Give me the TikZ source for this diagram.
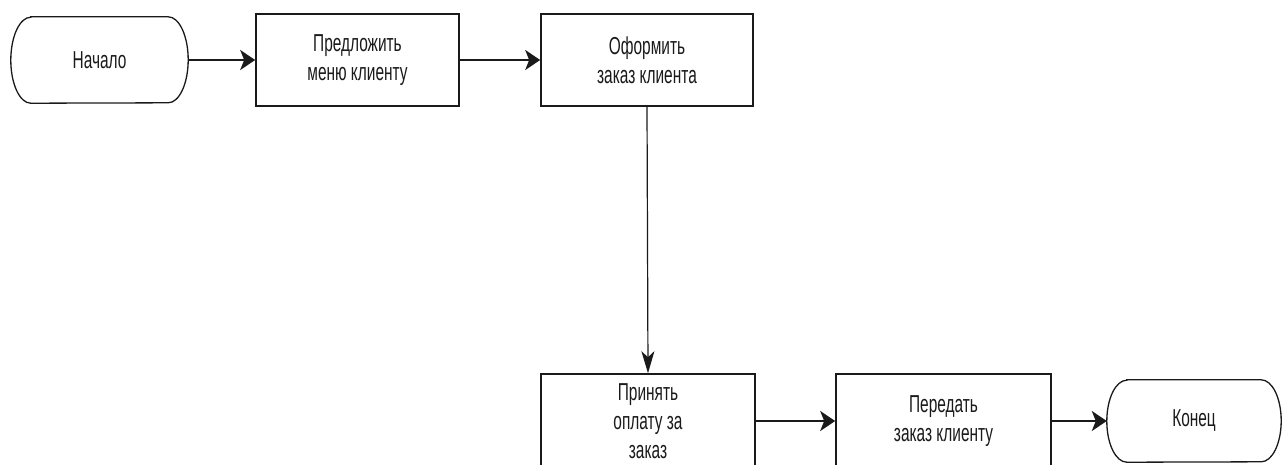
\documentclass[tikz,border=0pt]{standalone}
\usepackage{fontspec}
\setmainfont{Liberation Sans}[FakeStretch=0.63]
\usetikzlibrary{arrows.meta}
\definecolor{ink}{HTML}{1A1A1A}
\newcommand\drawterm[2]{%
  \draw[termline] ([xshift=20pt]#1.north west) -- ([xshift=-20pt]#1.north east)
    arc[start angle=90,end angle=-90,x radius=20pt,y radius=#2]
    -- ([xshift=20pt]#1.south west)
    arc[start angle=270,end angle=90,x radius=20pt,y radius=#2] -- cycle;}
\begin{document}
\begin{tikzpicture}[x=1pt,y=1pt,
  txt/.style={font=\fontsize{24.5}{29}\selectfont, text=ink, align=center, inner sep=0pt},
  procbox/.style={txt, draw=ink, line width=1.6pt, minimum height=#1},
  term/.style={txt, minimum width=177pt, minimum height=#1},
  termline/.style={draw=ink, line width=1.3pt},
  harrow/.style={draw=ink, line width=2pt, -{Stealth[length=15pt,width=20pt,inset=4pt]}},
  varrow/.style={draw=ink, line width=1.2pt, -{Stealth[length=22pt,width=13pt,inset=6pt]}}]
\useasboundingbox (0,0) rectangle (1282,-464);
\begin{scope}
\clip (0,0) rectangle (1282,-464);
% top row
\node[term=86pt] (start) at (99.5,-60) {Начало};
\drawterm{start}{43pt}
\node[procbox=92pt, minimum width=203pt] (offer) at (357.5,-60) {Предложить\\меню клиенту};
\node[procbox=92pt, minimum width=212pt] (order) at (647,-60) {Оформить\\заказ клиента};
% bottom row
\node[procbox=94pt, minimum width=214pt] (pay) at (648,-421) {Принять\\оплату за\\заказ};
\node[procbox=94pt, minimum width=215pt] (give) at (943.5,-421) {Передать\\заказ клиенту};
\node[term=82pt, minimum width=174pt] (end) at (1194,-421) {Конец};
\drawterm{end}{41pt}
% connectors
\draw[harrow] (start.east) -- (offer.west);
\draw[harrow] (offer.east) -- (order.west);
\draw[varrow] (order.south) -- (pay.north);
\draw[harrow] (pay.east) -- (give.west);
\draw[harrow] (give.east) -- (end.west);
\end{scope}
\end{tikzpicture}
\end{document}
